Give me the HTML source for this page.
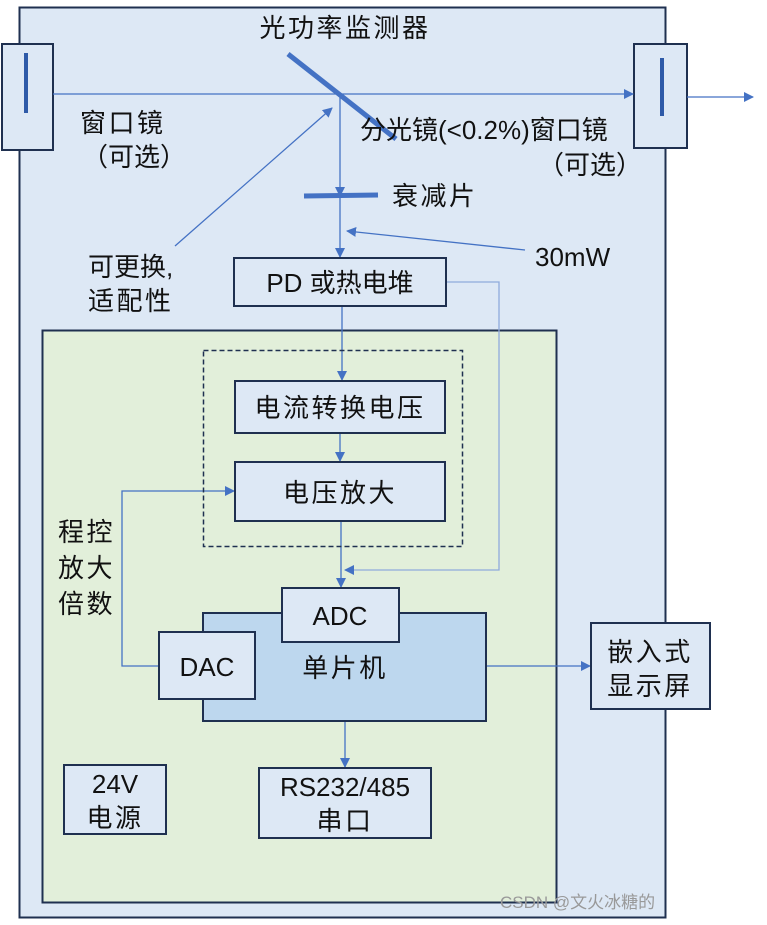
<!DOCTYPE html>
<html><head><meta charset="utf-8"><style>
html,body{margin:0;padding:0;background:#fff;}
svg text{font-family:"Liberation Sans","Noto Sans CJK SC",sans-serif;fill:#111;}
.c{letter-spacing:2.5px;}
</style></head><body>
<svg width="767" height="920" viewBox="0 0 767 920" xmlns="http://www.w3.org/2000/svg">
<defs>
<marker id="a" markerWidth="10" markerHeight="10" refX="9" refY="5" orient="auto" markerUnits="userSpaceOnUse">
<path d="M0,0 L10,5 L0,10 z" fill="#4472c4"/></marker>
</defs>
<rect x="19.5" y="7.5" width="646" height="910" fill="#dde8f5" stroke="#1f3050" stroke-width="2"/>
<rect x="42.5" y="330.5" width="514" height="572" fill="#e2efda" stroke="#1f3050" stroke-width="2"/>
<rect x="2" y="44" width="51" height="106" fill="#dde8f5" stroke="#1f3050" stroke-width="2"/>
<line x1="26" y1="53" x2="26" y2="113" stroke="#2e5aa8" stroke-width="4"/>
<rect x="634" y="44" width="53" height="104" fill="#dde8f5" stroke="#1f3050" stroke-width="2"/>
<line x1="662" y1="58" x2="662" y2="116" stroke="#2e5aa8" stroke-width="4"/>
<g stroke="#4472c4" stroke-width="1.3" fill="none">
<line x1="53" y1="94" x2="633" y2="94" marker-end="url(#a)"/>
<line x1="687" y1="97" x2="753" y2="97" marker-end="url(#a)"/>
<line x1="340" y1="94" x2="340" y2="196" marker-end="url(#a)"/>
<line x1="340" y1="196" x2="340" y2="257" marker-end="url(#a)"/>
<line x1="175" y1="246" x2="332" y2="108" marker-end="url(#a)"/>
<line x1="525" y1="250" x2="347" y2="231" marker-end="url(#a)"/>
<line x1="342" y1="306" x2="342" y2="380" marker-end="url(#a)"/>
<line x1="340" y1="433" x2="340" y2="461" marker-end="url(#a)"/>
<line x1="341" y1="521" x2="341" y2="587" marker-end="url(#a)"/>
<polyline points="159,666 122,666 122,491 234,491" marker-end="url(#a)"/>
<line x1="486" y1="666" x2="590" y2="666" marker-end="url(#a)"/>
<line x1="345" y1="721" x2="345" y2="767" marker-end="url(#a)"/>
</g>
<polyline points="446,282 499,282 499,570 345,570" fill="none" stroke="#8faadc" stroke-width="1.3" marker-end="url(#a)"/>
<line x1="288" y1="54" x2="396" y2="139" stroke="#4472c4" stroke-width="5"/>
<line x1="304" y1="196" x2="378" y2="195" stroke="#4472c4" stroke-width="5"/>
<rect x="203.5" y="350.5" width="259" height="196" fill="none" stroke="#1f3050" stroke-width="1.5" stroke-dasharray="5,3"/>
<g stroke="#1f3050" stroke-width="2">
<rect x="234" y="258" width="212" height="48" fill="#dde8f5"/>
<rect x="235" y="381" width="210" height="52" fill="#dde8f5"/>
<rect x="235" y="462" width="210" height="59" fill="#dde8f5"/>
<rect x="203" y="613" width="283" height="108" fill="#bdd7ee"/>
<rect x="282" y="588" width="117" height="54" fill="#dde8f5"/>
<rect x="159" y="632" width="96" height="67" fill="#dde8f5"/>
<rect x="591" y="623" width="119" height="86" fill="#dde8f5"/>
<rect x="259" y="768" width="172" height="70" fill="#dde8f5"/>
<rect x="64" y="765" width="102" height="69" fill="#dde8f5"/>
</g>
<g font-size="26">
<text x="345" y="37" text-anchor="middle" class="c">光功率监测器</text>
<text x="80" y="132" class="c">窗口镜</text>
<text x="82" y="166">（可选）</text>
<text x="360" y="139">分光镜(&lt;0.2%)窗口镜</text>
<text x="538" y="174">（可选）</text>
<text x="392" y="205" class="c">衰减片</text>
<text x="88" y="276">可更换,</text>
<text x="88" y="310" class="c">适配性</text>
<text x="535" y="266">30mW</text>
<text x="340" y="292" text-anchor="middle">PD 或热电堆</text>
<text x="340" y="417" text-anchor="middle" class="c">电流转换电压</text>
<text x="340" y="502" text-anchor="middle" class="c">电压放大</text>
<text x="58" y="541" class="c">程控</text>
<text x="58" y="577" class="c">放大</text>
<text x="58" y="613" class="c">倍数</text>
<text x="340" y="625" text-anchor="middle">ADC</text>
<text x="207" y="676" text-anchor="middle">DAC</text>
<text x="345" y="677" text-anchor="middle" class="c">单片机</text>
<text x="650" y="661" text-anchor="middle" class="c">嵌入式</text>
<text x="650" y="695" text-anchor="middle" class="c">显示屏</text>
<text x="345" y="796" text-anchor="middle">RS232/485</text>
<text x="345" y="830" text-anchor="middle" class="c">串口</text>
<text x="115" y="793" text-anchor="middle">24V</text>
<text x="115" y="827" text-anchor="middle" class="c">电源</text>
</g>
<text x="500" y="908" font-size="17" style="fill:#999">CSDN @文火冰糖的</text>
</svg>
</body></html>
